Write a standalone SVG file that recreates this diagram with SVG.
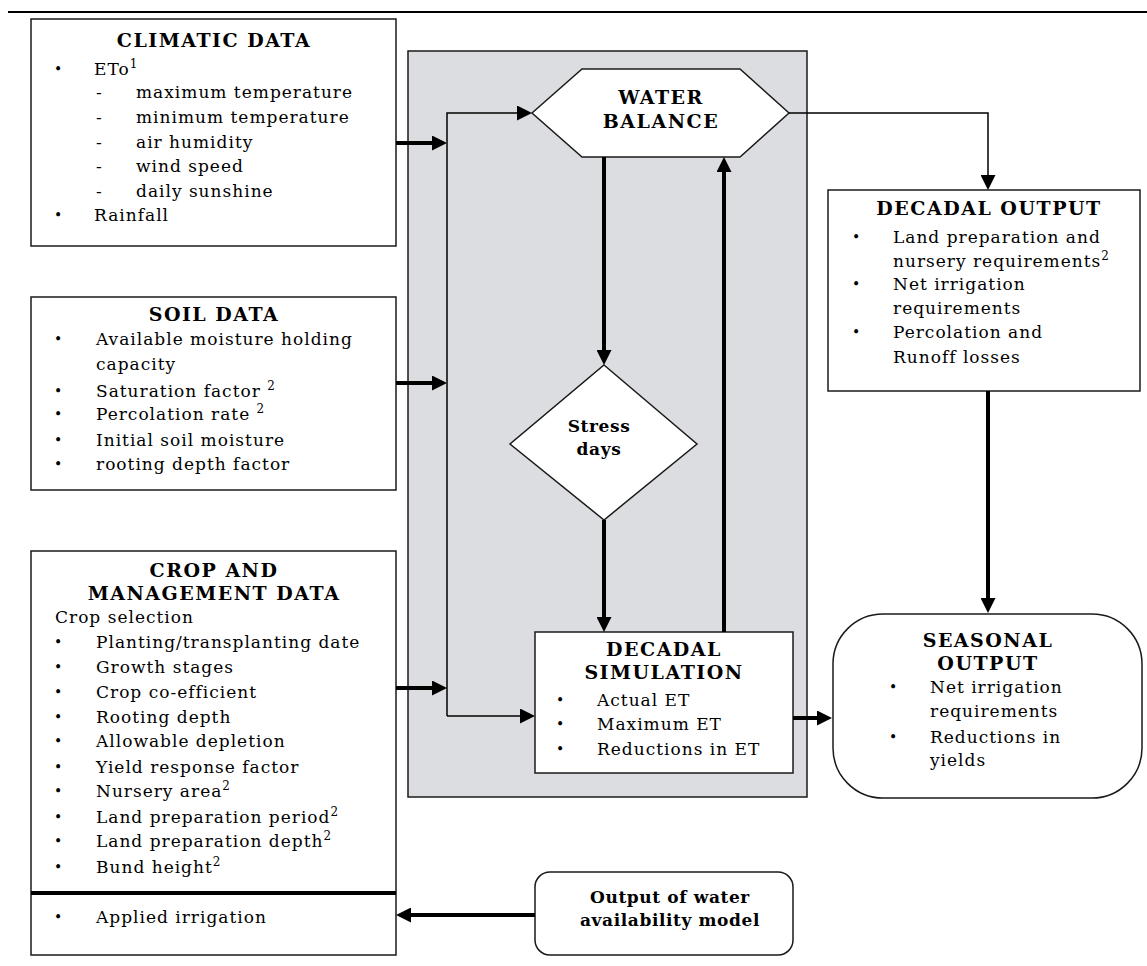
<svg xmlns="http://www.w3.org/2000/svg" width="1147" height="966" viewBox="0 0 1147 966">
<defs>
<marker id="ah" viewBox="0 0 15 15" refX="7" refY="7.5" markerWidth="15" markerHeight="15" markerUnits="userSpaceOnUse" orient="auto">
<path d="M0,0 L15,7.5 L0,15 z" fill="#000"/>
</marker>
</defs>
<style>
.box{fill:#fff;stroke:#1a1a1a;stroke-width:1.5}
.panel{fill:#dcdde0;stroke:#1a1a1a;stroke-width:1.5}
.t{font-family:"DejaVu Serif","Liberation Serif",serif;font-size:17px;letter-spacing:1px;fill:#000}
.d{font-family:"DejaVu Serif","Liberation Serif",serif;font-size:14px;fill:#000}
.h{font-family:"DejaVu Serif","Liberation Serif",serif;font-size:19px;letter-spacing:1.5px;font-weight:bold;text-anchor:middle;fill:#000}
.s{font-family:"DejaVu Serif","Liberation Serif",serif;font-size:17px;letter-spacing:0.6px;font-weight:bold;text-anchor:middle;fill:#000}
.sup{font-size:12px;letter-spacing:0}
.thick{fill:none;stroke:#000;stroke-width:4}
.thin{fill:none;stroke:#000;stroke-width:1.5}
</style>
<rect width="1147" height="966" fill="#fff"/>
<line x1="8" y1="12" x2="1147" y2="12" stroke="#000" stroke-width="2"/>

<g id="panel"><rect class="panel" x="408" y="51" width="399" height="746"/></g>

<g id="climatic">
<rect class="box" x="31" y="19" width="365" height="227"/>
<text class="h" x="214" y="47">CLIMATIC DATA</text>
<text class="d" x="54" y="74">•</text><text class="t" x="94" y="75">ETo<tspan class="sup" dy="-7">1</tspan></text>
<text class="t" x="96" y="98">-</text><text class="t" x="136" y="98">maximum temperature</text>
<text class="t" x="96" y="123">-</text><text class="t" x="136" y="123">minimum temperature</text>
<text class="t" x="96" y="148">-</text><text class="t" x="136" y="148">air humidity</text>
<text class="t" x="96" y="172">-</text><text class="t" x="136" y="172">wind speed</text>
<text class="t" x="96" y="197">-</text><text class="t" x="136" y="197">daily sunshine</text>
<text class="d" x="54" y="220">•</text><text class="t" x="94" y="221">Rainfall</text>
</g>

<g id="soil">
<rect class="box" x="31" y="297" width="365" height="193"/>
<text class="h" x="214" y="321">SOIL DATA</text>
<text class="d" x="54" y="344">•</text><text class="t" x="96" y="345">Available moisture holding</text>
<text class="t" x="96" y="370">capacity</text>
<text class="d" x="54" y="396">•</text><text class="t" x="96" y="397">Saturation factor <tspan class="sup" dy="-7">2</tspan></text>
<text class="d" x="54" y="419">•</text><text class="t" x="96" y="420">Percolation rate <tspan class="sup" dy="-7">2</tspan></text>
<text class="d" x="54" y="445">•</text><text class="t" x="96" y="446">Initial soil moisture</text>
<text class="d" x="54" y="469">•</text><text class="t" x="96" y="470">rooting depth factor</text>
</g>

<g id="crop">
<rect class="box" x="31" y="551" width="365" height="404"/>
<line x1="31" y1="893" x2="396" y2="893" stroke="#000" stroke-width="4"/>
<text class="h" x="214" y="577">CROP AND</text>
<text class="h" x="214" y="600">MANAGEMENT DATA</text>
<text class="t" x="55" y="623">Crop selection</text>
<text class="d" x="54" y="647">•</text><text class="t" x="96" y="648">Planting/transplanting date</text>
<text class="d" x="54" y="672">•</text><text class="t" x="96" y="673">Growth stages</text>
<text class="d" x="54" y="697">•</text><text class="t" x="96" y="698">Crop co-efficient</text>
<text class="d" x="54" y="722">•</text><text class="t" x="96" y="723">Rooting depth</text>
<text class="d" x="54" y="746">•</text><text class="t" x="96" y="747">Allowable depletion</text>
<text class="d" x="54" y="772">•</text><text class="t" x="96" y="773">Yield response factor</text>
<text class="d" x="54" y="796">•</text><text class="t" x="96" y="797">Nursery area<tspan class="sup" dy="-7">2</tspan></text>
<text class="d" x="54" y="822">•</text><text class="t" x="96" y="823">Land preparation period<tspan class="sup" dy="-7">2</tspan></text>
<text class="d" x="54" y="846">•</text><text class="t" x="96" y="847">Land preparation depth<tspan class="sup" dy="-7">2</tspan></text>
<text class="d" x="54" y="872">•</text><text class="t" x="96" y="873">Bund height<tspan class="sup" dy="-7">2</tspan></text>
<text class="d" x="54" y="922">•</text><text class="t" x="96" y="923">Applied irrigation</text>
</g>

<g id="water-balance">
<polygon class="box" points="532,113 582,69 740,69 789,113 740,157 582,157"/>
<text class="h" x="661" y="104">WATER</text>
<text class="h" x="661" y="128">BALANCE</text>
</g>

<g id="stress-days">
<polygon class="box" points="604,365 697,444 604,520 510,444"/>
<text class="s" x="599" y="432">Stress</text>
<text class="s" x="599" y="455">days</text>
</g>

<g id="decadal-simulation">
<rect class="box" x="535" y="632" width="258" height="141"/>
<text class="h" x="664" y="656">DECADAL</text>
<text class="h" x="664" y="679">SIMULATION</text>
<text class="d" x="556" y="705">•</text><text class="t" x="597" y="706">Actual ET</text>
<text class="d" x="556" y="729">•</text><text class="t" x="597" y="730">Maximum ET</text>
<text class="d" x="556" y="754">•</text><text class="t" x="597" y="755">Reductions in ET</text>
</g>

<g id="decadal-output">
<rect class="box" x="828" y="190" width="312" height="201"/>
<text class="h" x="989" y="215">DECADAL OUTPUT</text>
<text class="d" x="852" y="242">•</text><text class="t" x="893" y="243">Land preparation and</text>
<text class="t" x="893" y="267">nursery requirements<tspan class="sup" dy="-7">2</tspan></text>
<text class="d" x="852" y="289">•</text><text class="t" x="893" y="290">Net irrigation</text>
<text class="t" x="893" y="314">requirements</text>
<text class="d" x="852" y="337">•</text><text class="t" x="893" y="338">Percolation and</text>
<text class="t" x="893" y="363">Runoff losses</text>
</g>

<g id="seasonal-output">
<rect class="box" x="833" y="614" width="309" height="184" rx="50" ry="50"/>
<text class="h" x="988" y="647">SEASONAL</text>
<text class="h" x="988" y="670">OUTPUT</text>
<text class="d" x="889" y="692">•</text><text class="t" x="930" y="693">Net irrigation</text>
<text class="t" x="930" y="717">requirements</text>
<text class="d" x="889" y="742">•</text><text class="t" x="930" y="743">Reductions in</text>
<text class="t" x="930" y="766">yields</text>
</g>

<g id="water-availability">
<rect class="box" x="535" y="872" width="258" height="83" rx="15" ry="15"/>
<text class="s" x="670" y="903">Output of water</text>
<text class="s" x="670" y="926">availability model</text>
</g>

<g id="connectors">
<path class="thick" d="M396,143 L439,143" marker-end="url(#ah)"/>
<path class="thick" d="M396,383 L439,383" marker-end="url(#ah)"/>
<path class="thick" d="M396,688 L439,688" marker-end="url(#ah)"/>
<path class="thin" d="M447,716 L447,113 L524,113" marker-end="url(#ah)"/>
<path class="thin" d="M447,716 L527,716" marker-end="url(#ah)"/>
<path class="thick" d="M604,157 L604,357" marker-end="url(#ah)"/>
<path class="thick" d="M604,520 L604,624" marker-end="url(#ah)"/>
<path class="thick" d="M724,632 L724,165" marker-end="url(#ah)"/>
<path class="thin" d="M789,113 L988,113 L988,182" marker-end="url(#ah)"/>
<path class="thick" d="M988,391 L988,605" marker-end="url(#ah)"/>
<path class="thick" d="M793,718 L824,718" marker-end="url(#ah)"/>
<path class="thick" d="M535,915 L404,915" marker-end="url(#ah)"/>
</g>
</svg>
